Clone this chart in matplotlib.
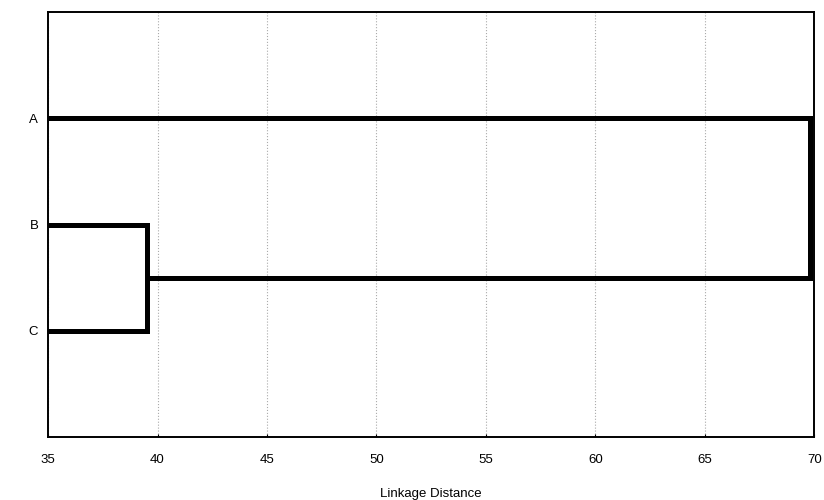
import matplotlib.pyplot as plt
import numpy as np

plt.rcParams['font.family'] = ['Liberation Sans', 'DejaVu Sans']

labels = ["A", "B", "C"]
leaf_pos = [1, 2, 3]
# merge distances
merge_bc = 39.5
merge_all = 69.8
x_min = 35

fig = plt.figure(figsize=(8.24, 5), dpi=100)
ax = fig.add_axes([0.0583, 0.126, 0.93, 0.85])

lw = 3.6
# B-C cluster
y_bc = (leaf_pos[1] + leaf_pos[2]) / 2
ax.plot([x_min, merge_bc, merge_bc, x_min], [leaf_pos[1], leaf_pos[1], leaf_pos[2], leaf_pos[2]],
        c="k", lw=lw, solid_joinstyle="miter", solid_capstyle="butt")
# A with (B,C)
ax.plot([x_min, merge_all, merge_all, merge_bc], [leaf_pos[0], leaf_pos[0], y_bc, y_bc],
        c="k", lw=lw, solid_joinstyle="miter", solid_capstyle="butt")

ax.set_xlim(35, 70)
ax.set_ylim(4, 0)
ax.set_xticks(np.arange(35, 71, 5))
ax.set_yticks(leaf_pos)
ax.set_yticklabels(labels)
ax.tick_params(axis="y", length=0, pad=7, labelsize=9.5)
ax.tick_params(axis="x", length=2, direction="in", pad=12, labelsize=9.5)
ax.grid(axis="x", ls=":", c="#aaaaaa", lw=0.8)
for s in ax.spines.values():
    s.set_linewidth(1.4)
ax.set_xlabel("Linkage Distance", fontsize=9.5, labelpad=16)

plt.savefig("out.png")
